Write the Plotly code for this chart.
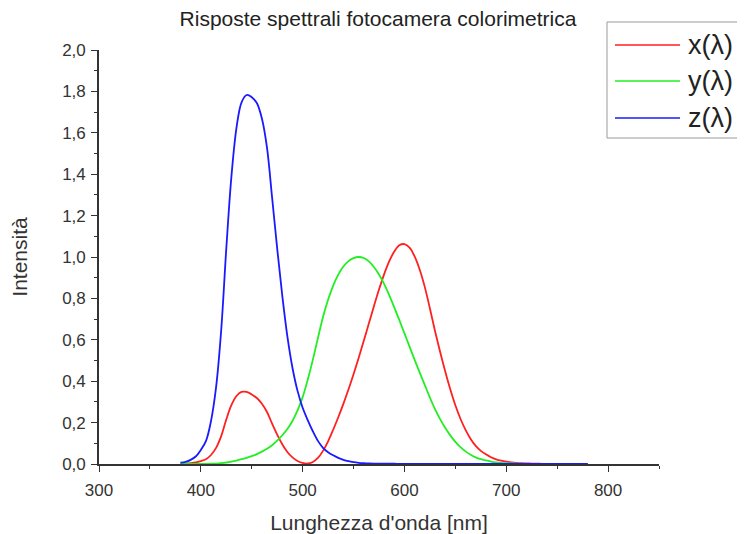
import plotly.graph_objects as go

# CIE-like spectral responses (5 nm steps)
wavelength = list(range(380, 785, 5))
x_bar = [0.001368, 0.002236, 0.004243, 0.00765, 0.01431, 0.02319, 0.04351, 0.07763, 0.13438, 0.21477,
         0.2839, 0.3285, 0.34828, 0.34806, 0.3362, 0.3187, 0.2908, 0.2511, 0.19536, 0.1421,
         0.09564, 0.05795, 0.03201, 0.0147, 0.0049, 0.0024, 0.0093, 0.0291, 0.06327, 0.1096,
         0.1655, 0.22575, 0.2904, 0.3597, 0.43345, 0.51205, 0.5945, 0.6784, 0.7621, 0.8425,
         0.9163, 0.9786, 1.0263, 1.0567, 1.0622, 1.0456, 1.0026, 0.9384, 0.85445, 0.7514,
         0.6424, 0.5419, 0.4479, 0.3608, 0.2835, 0.2187, 0.1649, 0.1212, 0.0874, 0.0636,
         0.04677, 0.0329, 0.0227, 0.01584, 0.011359, 0.008111, 0.00579, 0.004109, 0.002899, 0.002049,
         0.00144, 0.001, 0.00069, 0.000476, 0.000332, 0.000235, 0.000166, 0.000117, 0.000083, 0.000059,
         0.000042]
y_bar = [0.000039, 0.000064, 0.00012, 0.000217, 0.000396, 0.00064, 0.00121, 0.00218, 0.004, 0.0073,
         0.0116, 0.01684, 0.023, 0.0298, 0.038, 0.048, 0.06, 0.0739, 0.09098, 0.1126,
         0.13902, 0.1693, 0.20802, 0.2586, 0.323, 0.4073, 0.503, 0.6082, 0.71, 0.7932,
         0.862, 0.91485, 0.954, 0.9803, 0.99495, 1.0, 0.995, 0.9786, 0.952, 0.9154,
         0.87, 0.8163, 0.757, 0.6949, 0.631, 0.5668, 0.503, 0.4412, 0.381, 0.321,
         0.265, 0.217, 0.175, 0.1382, 0.107, 0.0816, 0.061, 0.04458, 0.032, 0.0232,
         0.017, 0.01192, 0.00821, 0.005723, 0.004102, 0.002929, 0.002091, 0.001484, 0.001047, 0.00074,
         0.00052, 0.000361, 0.000249, 0.000172, 0.00012, 0.000085, 0.00006, 0.000042, 0.00003, 0.000021,
         0.000015]
z_bar = [0.00645, 0.01055, 0.02005, 0.03621, 0.06785, 0.1102, 0.2074, 0.3713, 0.6456, 1.03905,
         1.3856, 1.62296, 1.74706, 1.7826, 1.77211, 1.7441, 1.6692, 1.5281, 1.28764, 1.0419,
         0.81295, 0.6162, 0.46518, 0.3533, 0.272, 0.2123, 0.1582, 0.1117, 0.07825, 0.05725,
         0.04216, 0.02984, 0.0203, 0.0134, 0.00875, 0.00575, 0.0039, 0.00275, 0.0021, 0.0018,
         0.00165, 0.0014, 0.0011, 0.001, 0.0008, 0.0006, 0.00034, 0.00024, 0.00019, 0.0001,
         0.00005, 0.00003, 0.00002, 0.00001] + [0.0] * 27

series_names = ["x(λ)", "y(λ)", "z(λ)"]
series_values = [x_bar, y_bar, z_bar]
series_colors = ["#ff2020", "#22ee22", "#1a1aff"]

x_ticks = [300, 400, 500, 600, 700, 800]
y_ticks = [0.0, 0.2, 0.4, 0.6, 0.8, 1.0, 1.2, 1.4, 1.6, 1.8, 2.0]

fig = go.Figure()
for name, vals, col in zip(series_names, series_values, series_colors):
    fig.add_trace(go.Scatter(x=wavelength, y=vals, mode="lines", name=name,
                             line=dict(color=col, width=1.8, shape="spline"),
                             showlegend=False))

font_family = "Liberation Sans, Arial, sans-serif"
axis_common = dict(showline=True, linecolor="#333333", linewidth=1.6, ticks="outside",
                   ticklen=6, tickwidth=1.4, tickcolor="#333333", showgrid=False, zeroline=False,
                   tickfont=dict(family=font_family, size=17, color="#333333"),
                   title_font=dict(family=font_family, size=21, color="#333333"), mirror=False,
                   automargin=False)

# page has an 8px body margin; figure size/margins compensate
W, H = 737, 526
fig.update_layout(
    width=W, height=H,
    margin=dict(l=91, r=86, t=42, b=70),
    paper_bgcolor="white", plot_bgcolor="white",
    separators=",.",
    title=dict(text="Risposte spettrali fotocamera colorimetrica", x=370 / W,
               xanchor="center", y=1 - 11 / H, yanchor="middle",
               font=dict(family=font_family, size=21, color="#222222")),
    xaxis=dict(range=[300, 850], tickvals=x_ticks, ticklabelstandoff=4,
               title=dict(text="Lunghezza d'onda [nm]", standoff=18),
               minor=dict(dtick=50, tick0=300, ticklen=3, tickwidth=1.4, tickcolor="#333333", ticks="outside"),
               **axis_common),
    yaxis=dict(range=[0, 2.0], tickvals=y_ticks, tickformat=".1f", ticklabelstandoff=2,
               title=dict(text="Intensità", standoff=30),
               minor=dict(dtick=0.1, tick0=0, ticklen=3, tickwidth=1.4, tickcolor="#333333", ticks="outside"),
               **axis_common),
)

# custom legend (box with long line samples); positions given in page pixels -> paper coords
px_w, px_h = 560.0, 414.0
def px_to_paper(xp, yp):
    return (xp - 99) / px_w, (464 - yp) / px_h

x0, y0 = px_to_paper(607, 22)
x1, y1 = px_to_paper(760, 138)
fig.add_shape(type="rect", xref="paper", yref="paper", x0=x0, y0=y1, x1=x1, y1=y0,
              line=dict(color="#999999", width=1), fillcolor="white", layer="above")
row_y = [45, 81, 118]
for name, col, ry in zip(series_names, series_colors, row_y):
    lx0, ly = px_to_paper(615, ry)
    lx1, _ = px_to_paper(680, ry)
    fig.add_shape(type="line", xref="paper", yref="paper", x0=lx0, x1=lx1, y0=ly, y1=ly,
                  line=dict(color=col, width=1.6), layer="above")
    tx, ty = px_to_paper(686, ry)
    fig.add_annotation(text=name, xref="paper", yref="paper", x=tx, y=ty, xanchor="left",
                       yanchor="middle", showarrow=False,
                       font=dict(family=font_family, size=27, color="#222222"))

fig.write_html("out.html")
